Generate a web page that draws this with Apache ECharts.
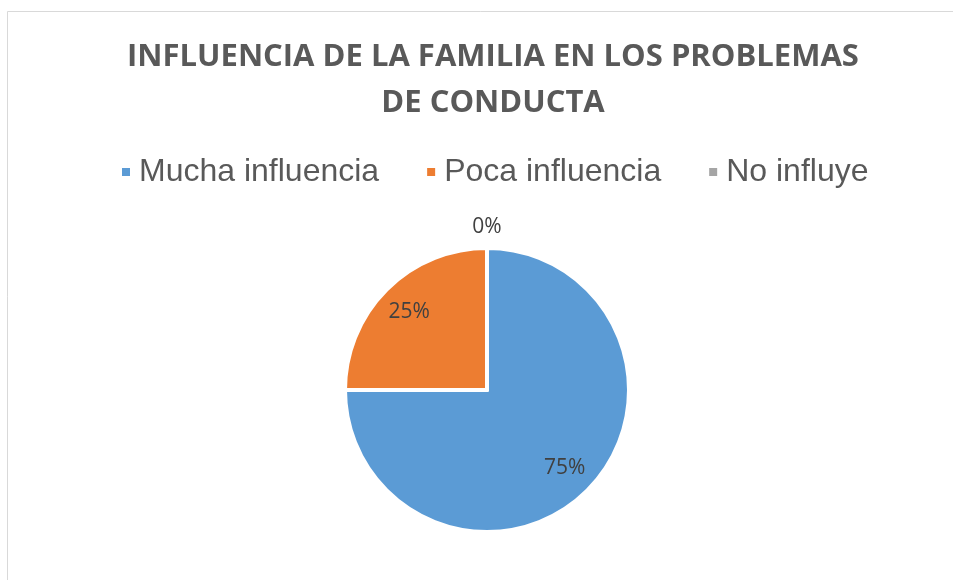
<!DOCTYPE html>
<html>
<head>
<meta charset="utf-8">
<script src="https://cdn.jsdelivr.net/npm/echarts@6/dist/echarts.min.js"></script>
<style>html,body{margin:0;padding:0;background:#fff}#chart{width:953px;height:580px}</style>
</head>
<body>
<div id="chart"></div>
<script>
const titleText = 'INFLUENCIA DE LA FAMILIA EN LOS PROBLEMAS\nDE CONDUCTA';
const categories = ['Mucha influencia', 'Poca influencia', 'No influye'];
const values = [75, 25, 0];
const colors = ['#5B9BD5', '#ED7D31', '#A5A5A5'];

const chart = echarts.init(document.getElementById('chart'), null, {renderer: 'canvas'});

const mainData = categories.map((c, i) => ({
  name: c,
  value: values[i],
  itemStyle: {color: colors[i]},
  label: {show: values[i] === 0}
}));
const labelData = categories.map((c, i) => ({
  name: c,
  value: values[i],
  label: {show: values[i] !== 0}
}));

chart.setOption({
  backgroundColor: '#fff',
  animation: false,
  title: {
    text: titleText,
    left: 488,
    top: 29,
    textAlign: 'center',
    textStyle: {
      fontFamily: 'Open Sans',
      fontWeight: 'bold',
      fontSize: 31,
      color: '#595959',
      lineHeight: 46
    }
  },
  legend: {
    data: categories,
    left: 115,
    top: 151,
    icon: 'rect',
    itemWidth: 10,
    itemHeight: 10,
    itemGap: 46,
    textStyle: {
      fontFamily: 'Liberation Sans, Arial, sans-serif',
      fontSize: 32,
      color: '#595959',
      padding: [0, 0, 0, 3]
    }
  },
  graphic: [{
    type: 'rect',
    shape: {x: 7.5, y: 11.5, width: 1200, height: 800},
    style: {fill: 'none', stroke: '#D9D9D9', lineWidth: 1},
    silent: true,
    z: -1
  }],
  series: [{
    type: 'pie',
    center: [487, 390],
    radius: [0, 142],
    startAngle: 90,
    clockwise: true,
    percentPrecision: 0,
    avoidLabelOverlap: false,
    itemStyle: {borderColor: '#fff', borderWidth: 4},
    label: {
      position: 'outside',
      formatter: '{d}%',
      distanceToLabelLine: 0,
      fontFamily: 'Open Sans',
      fontSize: 21,
      color: '#404040'
    },
    labelLine: {show: false, length: 21, length2: 0},
    labelLayout: {align: 'center'},
    emphasis: {disabled: true},
    data: mainData
  }, {
    type: 'pie',
    center: [487, 390],
    radius: [74, 140],
    startAngle: 90,
    clockwise: true,
    percentPrecision: 0,
    silent: true,
    itemStyle: {color: 'rgba(0,0,0,0)', borderWidth: 0},
    label: {
      position: 'inside',
      formatter: '{d}%',
      fontFamily: 'Open Sans',
      fontSize: 21,
      color: '#404040'
    },
    labelLine: {show: false},
    emphasis: {disabled: true},
    data: labelData
  }]
});
</script>
</body>
</html>
